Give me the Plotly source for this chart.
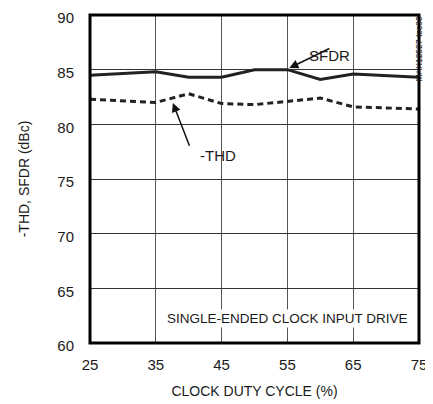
import plotly.graph_objects as go

duty = [25, 35, 40, 45, 50, 55, 60, 65, 75]
sfdr = [84.5, 84.8, 84.3, 84.3, 85.0, 85.0, 84.1, 84.6, 84.3]
thd = [82.3, 82.0, 82.8, 81.9, 81.8, 82.1, 82.4, 81.6, 81.4]
x_ticks = [25, 35, 45, 55, 65, 75]
y_ticks = [60, 65, 70, 75, 80, 85, 90]

FONT = "Liberation Sans Narrow, Arial Narrow, Liberation Sans, sans-serif"

# page body has an 8px margin; figure placed so plot area lands at (90..419, 15..343)
L, T = 82, 7
W, H = 425, 396
PW, PH = 329, 328


def px(xi):
    return (xi - 90) / PW


def py(yi):
    return (343 - yi) / PH


fig = go.Figure()
fig.add_trace(go.Scatter(x=duty, y=sfdr, mode="lines", line=dict(color="#222", width=3), showlegend=False))
fig.add_trace(go.Scatter(x=duty, y=thd, mode="lines", line=dict(color="#222", width=3, dash="6px,4px"),
                         showlegend=False))

fig.add_shape(type="rect", xref="paper", yref="paper", x0=0, y0=0, x1=1, y1=1,
              line=dict(color="black", width=3), fillcolor="rgba(0,0,0,0)", layer="above")

fig.update_layout(
    template="none",
    width=W, height=H,
    margin=dict(l=L, r=W - L - PW, t=T, b=H - T - PH, autoexpand=False),
    paper_bgcolor="white", plot_bgcolor="white",
    font=dict(family=FONT, size=15, color="#1a1a1a"),
    xaxis=dict(range=[25, 75], tickvals=x_ticks, showgrid=True, gridcolor="#555", gridwidth=1,
               showline=False, zeroline=False, automargin=False, ticklabeloverflow="allow",
               ticks="outside", ticklen=8, tickcolor="rgba(0,0,0,0)",
               title=dict(text="CLOCK DUTY CYCLE (%)", standoff=14, font=dict(size=14)),
               tickfont=dict(size=15)),
    yaxis=dict(range=[60, 90], tickvals=y_ticks, showgrid=True, gridcolor="#333", gridwidth=1,
               showline=False, zeroline=False, automargin=False, ticklabeloverflow="allow",
               ticks="outside", ticklen=12, tickcolor="rgba(0,0,0,0)", ticklabelshift=3,
               title=dict(text="-THD, SFDR (dBc)", standoff=24, font=dict(size=14)),
               tickfont=dict(size=15)),
    annotations=[
        dict(x=55.3, y=85.15, ax=61.6, ay=87.0, axref="x", ayref="y", xref="x", yref="y",
             text="", showarrow=True, arrowhead=2, arrowsize=1.2, arrowwidth=1.5, arrowcolor="#111"),
        dict(xref="paper", yref="paper", x=px(352), y=py(45), text="SFDR", showarrow=False,
             font=dict(size=15)),
        dict(x=37.6, y=81.95, ax=40.2, ay=77.9, axref="x", ayref="y", xref="x", yref="y",
             text="", showarrow=True, arrowhead=2, arrowsize=1.2, arrowwidth=1.5, arrowcolor="#111"),
        dict(xref="paper", yref="paper", x=px(198), y=py(155), text="-THD", showarrow=False,
             font=dict(size=15)),
        dict(xref="paper", yref="paper", x=px(410), y=py(328), xanchor="right",
             text="SINGLE-ENDED CLOCK INPUT DRIVE", showarrow=False, font=dict(size=13.5),
             bgcolor="white", borderpad=1),
        dict(xref="paper", yref="paper", x=px(425), y=1, yanchor="top", textangle=-90,
             text="MAX12527 toc30", showarrow=False, font=dict(size=8.5)),
    ],
)

fig.write_html("out.html")
